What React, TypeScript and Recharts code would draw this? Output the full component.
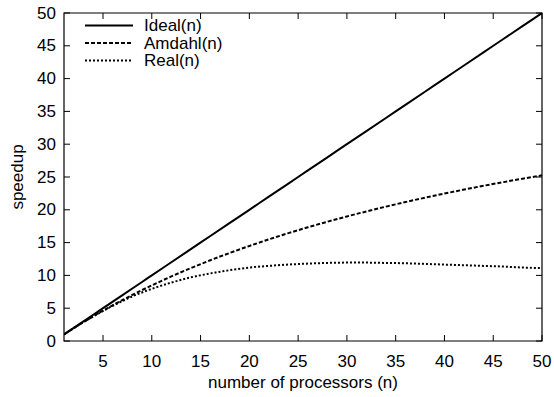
import { Label, Legend, Line, LineChart, ReferenceArea, XAxis, YAxis } from "recharts";

const procs = [1, 2, 3, 4, 5, 6, 7, 8, 9, 10, 12, 14, 16, 18, 20, 22, 24, 26, 28, 30, 32, 34, 36, 38, 40, 42, 44, 46, 48, 50];
const idealSpeedup = [1, 2, 3, 4, 5, 6, 7, 8, 9, 10, 12, 14, 16, 18, 20, 22, 24, 26, 28, 30, 32, 34, 36, 38, 40, 42, 44, 46, 48, 50];
const amdahlSpeedup = [
  1.0, 1.96, 2.88, 3.77, 4.63, 5.45, 6.25, 7.02, 7.76, 8.47, 9.84, 11.11, 12.31, 13.43, 14.49, 15.49, 16.44, 17.33,
  18.18, 18.99, 19.75, 20.48, 21.18, 21.84, 22.47, 23.08, 23.66, 24.21, 24.74, 25.25,
];
const realSpeedup = [
  1.0, 1.96, 2.88, 3.75, 4.58, 5.37, 6.1, 6.8, 7.4, 7.95, 8.9, 9.7, 10.3, 10.8, 11.2, 11.45, 11.65, 11.8, 11.9, 11.95,
  11.95, 11.9, 11.85, 11.75, 11.65, 11.55, 11.45, 11.35, 11.2, 11.1,
];
const xTicks = [5, 10, 15, 20, 25, 30, 35, 40, 45, 50];
const yTicks = [0, 5, 10, 15, 20, 25, 30, 35, 40, 45, 50];

const series = [
  { key: "ideal", name: "Ideal(n)", dash: undefined },
  { key: "amdahl", name: "Amdahl(n)", dash: "4 2" },
  { key: "real", name: "Real(n)", dash: "2 2" },
];

const data = procs.map((n, i) => ({
  n,
  ideal: idealSpeedup[i],
  amdahl: amdahlSpeedup[i],
  real: realSpeedup[i],
}));

const W = 554;
const H = 397;
const margin = { top: 13, right: 12, bottom: 0, left: 0 };
const PLOT_TOP = margin.top;
const PLOT_RIGHT = W - margin.right;
const FONT = "'Liberation Sans', Arial, Helvetica, sans-serif";
const FS = 17;
const TICK_LEN = 6;

function XTick({ x, y, payload }: any) {
  return (
    <g>
      <line x1={x} x2={x} y1={y} y2={y - TICK_LEN} stroke="#000" />
      <line x1={x} x2={x} y1={PLOT_TOP} y2={PLOT_TOP + TICK_LEN} stroke="#000" />
      <text x={x} y={y + 20} textAnchor="middle" dominantBaseline="central" fontSize={FS} fontFamily={FONT} fill="#000">
        {payload.value}
      </text>
    </g>
  );
}

function YTick({ x, y, payload }: any) {
  return (
    <g>
      <line x1={x} x2={x + TICK_LEN} y1={y} y2={y} stroke="#000" />
      <line x1={PLOT_RIGHT - TICK_LEN} x2={PLOT_RIGHT} y1={y} y2={y} stroke="#000" />
      <text x={x - 8} y={y} textAnchor="end" dominantBaseline="central" fontSize={FS} fontFamily={FONT} fill="#000">
        {payload.value}
      </text>
    </g>
  );
}

function renderLegend() {
  return (
    <svg width={170} height={60}>
      {series.map((s, i) => {
        const cy = 10.5 + i * 17.5;
        return (
          <g key={s.key}>
            <line x1={5} x2={53} y1={cy} y2={cy} stroke="#000" strokeWidth={2} strokeDasharray={s.dash} />
            <text x={64} y={cy} dominantBaseline="central" fontSize={FS} fontFamily={FONT} fill="#000">
              {s.name}
            </text>
          </g>
        );
      })}
    </svg>
  );
}

export default function App() {
  return (
    <div style={{ position: "absolute", left: 0, top: 0, width: W, height: H, background: "#fff" }}>
      <LineChart width={W} height={H} data={data} margin={margin}>
        <XAxis
          dataKey="n"
          type="number"
          domain={[1, 50]}
          ticks={xTicks}
          interval={0}
          allowDataOverflow
          height={56}
          axisLine={false}
          tickLine={false}
          tickSize={0}
          tickMargin={0}
          tick={<XTick />}
        >
          <Label
            value="number of processors (n)"
            position="insideBottom"
            offset={9}
            style={{ fontSize: FS, fontFamily: FONT, fill: "#000" }}
          />
        </XAxis>
        <YAxis
          type="number"
          domain={[0, 50]}
          ticks={yTicks}
          interval={0}
          allowDataOverflow
          width={64}
          axisLine={false}
          tickLine={false}
          tickSize={0}
          tickMargin={0}
          tick={<YTick />}
        >
          <Label
            value="speedup"
            angle={-90}
            position="insideLeft"
            offset={17}
            style={{ fontSize: FS, fontFamily: FONT, fill: "#000", textAnchor: "middle" }}
          />
        </YAxis>
        <ReferenceArea x1={1} x2={50} y1={0} y2={50} stroke="#000" strokeWidth={1.2} fill="none" fillOpacity={0} />
        <Legend
          layout="horizontal"
          verticalAlign="middle"
          align="center"
          wrapperStyle={{ top: 15, left: 80, width: 170, height: 60 }}
          content={renderLegend}
        />
        {series.map((s) => (
          <Line
            key={s.key}
            dataKey={s.key}
            name={s.name}
            type="monotone"
            stroke="#000"
            strokeWidth={2}
            strokeDasharray={s.dash}
            dot={false}
            activeDot={false}
            isAnimationActive={false}
          />
        ))}
      </LineChart>
    </div>
  );
}
